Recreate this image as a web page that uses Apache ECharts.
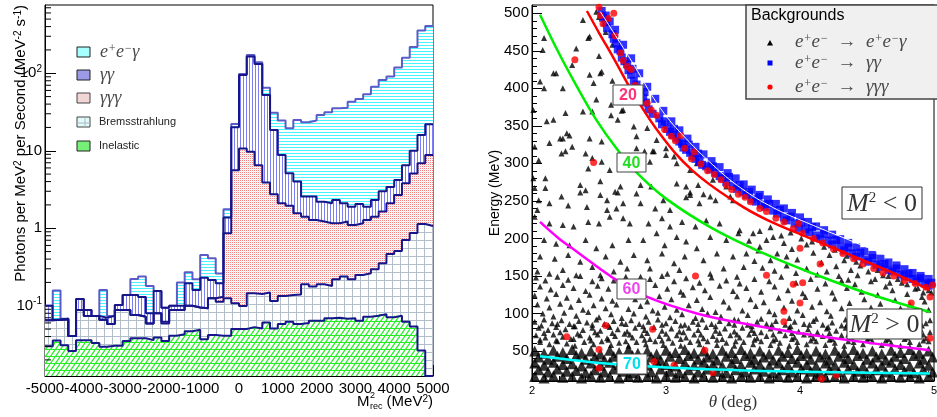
<!DOCTYPE html>
<html>
<head>
<meta charset="utf-8">
<script src="https://cdn.jsdelivr.net/npm/echarts@6.0.0/dist/echarts.min.js"></script>
<style>
html, body { margin: 0; padding: 0; background: #fff; }
#main { width: 937px; height: 417px; }
</style>
</head>
<body>
<div id="main"></div>
<script>
// ---------- left panel: M2_rec spectrum, 50 bins of 200 MeV^2, cumulative (stacked) tops ----------
const binEdges = [];
for (let i = 0; i <= 50; i++) binEdges.push(-5000 + 200 * i);

const inelasticTop = [0.030, 0.0355, 0.031, 0.026, 0.036, 0.036, 0.033, 0.0296, 0.0305, 0.0305,
  0.035, 0.038, 0.038, 0.036, 0.039, 0.035, 0.041, 0.043, 0.047, 0.049,
  0.037, 0.042, 0.041, 0.041, 0.050, 0.050, 0.053, 0.051, 0.061, 0.051,
  0.058, 0.062, 0.058, 0.060, 0.064, 0.064, 0.069, 0.070, 0.068, 0.069,
  0.064, 0.072, 0.0745, 0.078, 0.071, 0.0745, 0.062, 0.054, 0.0265, 0];
const bremsTop = [0.065, 0.066, 0.066, 0.0407, 0.088, 0.074, 0.074, 0.066, 0.058, 0.088,
  0.088, 0.076, 0.072, 0.059, 0.080, 0.059, 0.088, 0.088, 0.100, 0.095,
  0.093, 0.125, 0.113, 0.125, 0.108, 0.099, 0.145, 0.142, 0.148, 0.115,
  0.134, 0.138, 0.140, 0.189, 0.177, 0.189, 0.180, 0.220, 0.238, 0.220,
  0.249, 0.262, 0.296, 0.353, 0.466, 0.509, 0.706, 0.869, 1.135, 1.07];
const gggTop = [0.065, 0.066, 0.068, 0.0407, 0.088, 0.074, 0.074, 0.066, 0.058, 0.088,
  0.088, 0.076, 0.072, 0.059, 0.080, 0.062, 0.088, 0.088, 0.100, 0.095,
  0.093, 0.125, 0.131, 0.86, 5.6, 10.7, 9.7, 6.5, 3.9, 2.75,
  2.1, 1.95, 1.56, 1.41, 1.28, 1.22, 1.16, 1.16, 1.22, 1.10,
  1.16, 1.28, 1.41, 1.64, 2.1, 2.69, 3.81, 5.1, 6.9, 8.8];
const ggTop = [0.100, 0.066, 0.068, 0.0407, 0.122, 0.088, 0.074, 0.070, 0.074, 0.102,
  0.138, 0.138, 0.130, 0.080, 0.155, 0.094, 0.100, 0.100, 0.195, 0.160,
  0.230, 0.215, 0.195, 1.38, 20.1, 95, 164, 132, 52.5, 18.5,
  8.8, 5.13, 4.0, 2.56, 2.56, 2.2, 2.1, 2.32, 2.1, 1.9,
  2.06, 1.9, 2.32, 3.0, 3.4, 4.2, 6.5, 10, 16, 22];
const eegTop = [0.100, 0.157, 0.068, 0.0407, 0.122, 0.088, 0.074, 0.160, 0.074, 0.102,
  0.138, 0.222, 0.238, 0.180, 0.155, 0.094, 0.100, 0.200, 0.270, 0.220,
  0.450, 0.410, 0.260, 1.76, 22.1, 98, 172, 139, 65, 31,
  24.5, 19.5, 24.9, 23.3, 24.5, 29, 31.4, 35.3, 36, 43,
  46.6, 53.6, 67, 82, 90.6, 119, 159, 218, 355, 407];
const logMinorTicks = [0.02, 0.03, 0.04, 0.05, 0.06, 0.07, 0.08, 0.09,
  0.2, 0.3, 0.4, 0.5, 0.6, 0.7, 0.8, 0.9, 2, 3, 4, 5, 6, 7, 8, 9,
  20, 30, 40, 50, 60, 70, 80, 90, 200, 300, 400, 500, 600, 700];

// ---------- right panel: energy vs angle ----------
const energyTicks = [50, 100, 150, 200, 250, 300, 350, 400, 450, 500];
const energyMinorTicks = [20, 30, 40, 60, 70, 80, 90, 110, 120, 130, 140, 160, 170, 180, 190,
  210, 220, 230, 240, 260, 270, 280, 290, 310, 320, 330, 340, 360, 370, 380, 390,
  410, 420, 430, 440, 460, 470, 480, 490, 510];

const curve20 = [[2.41, 503], [2.5, 474], [2.61, 440], [2.76, 392], [2.96, 338], [3.2, 290], [3.53, 247], [3.75, 225], [4.05, 202], [4.4, 176], [4.72, 152], [4.97, 131]];
const curve40 = [[2.06, 498], [2.2, 447], [2.33, 404], [2.48, 358], [2.63, 320], [2.78, 288], [3.0, 253], [3.35, 213], [3.73, 180], [4.1, 153], [4.5, 127], [4.97, 102]];
const curve60 = [[2.06, 222], [2.2, 200], [2.33, 183], [2.6, 148], [2.86, 122], [3.23, 100], [3.6, 86], [4.1, 71], [4.6, 59], [4.97, 51]];
const curve70 = [[2.06, 43], [2.3, 38], [2.6, 32.5], [3.0, 28], [3.6, 24], [4.3, 21.5], [4.97, 20]];
const curveTwoPhoton = [[2.51, 502], [2.73, 440], [2.96, 373], [3.15, 333], [3.38, 293], [3.56, 267], [3.8, 241], [4.05, 221], [4.42, 194], [4.79, 167], [4.95, 156]];

const ggPoints = [[2.52,503],[2.53,494],[2.55,488],[2.56,480],[2.58,489],[2.6,472],[2.61,466],[2.63,460],[2.64,452],[2.66,450],[2.67,441],[2.69,436],[2.71,432],[2.72,424],[2.74,418],[2.75,426],[2.76,410],[2.78,405],[2.79,398],[2.81,392],[2.83,387],[2.84,395],[2.85,381],[2.87,372],[2.9,366],[2.95,360],[2.97,352],[2.99,356],[3.01,346],[3.03,342],[3.05,338],[3.06,346],[3.08,334],[3.1,329],[3.12,326],[3.13,321],[3.15,318],[3.17,325],[3.18,314],[3.2,310],[3.22,306],[3.24,313],[3.25,302],[3.27,298],[3.3,296],[3.33,292],[3.35,296],[3.37,287],[3.4,283],[3.42,280],[3.45,275],[3.47,282],[3.5,270],[3.53,266],[3.55,271],[3.57,262],[3.6,258],[3.62,262],[3.64,252],[3.67,249],[3.69,255],[3.71,245],[3.74,242],[3.77,246],[3.8,237],[3.83,233],[3.85,238],[3.88,228],[3.9,224],[3.93,229],[3.96,220],[3.99,214],[4.01,221],[4.04,212],[4.07,208],[4.09,215],[4.12,204],[4.15,200],[4.18,206],[4.21,197],[4.24,192],[4.27,198],[4.3,189],[4.33,184],[4.36,188],[4.39,180],[4.42,176],[4.45,181],[4.48,172],[4.51,169],[4.54,174],[4.57,165],[4.6,162],[4.63,166],[4.66,158],[4.69,156],[4.72,160],[4.75,152],[4.78,149],[4.81,153],[4.84,146],[4.87,143],[4.9,147],[4.93,140],[4.96,137],[4.98,141],
  [2.55,497],[2.62,478],[2.68,458],[2.74,440],[2.8,420],[2.86,402],[2.92,386],[2.98,370],[3.04,356],[3.1,344],[3.16,333],[3.22,322],[3.28,312],[3.34,303],[3.4,295],[3.46,287],[3.52,280],[3.58,272],[3.64,265],[3.7,258],[3.76,252],[3.82,246],[3.88,240],[3.94,234],[4.0,228],[4.06,222],[4.12,216],[4.18,211],[4.24,205],[4.3,199],[4.36,194],[4.42,188],[4.48,183],[4.54,178],[4.6,173],[4.66,168],[4.72,164],[4.78,159],[4.84,154],[4.9,150],[4.96,146]];

const gggPoints = [[2.5,508],[2.51,497],[2.53,486],[2.57,493],[2.61,500],[2.62,470],[2.66,447],[2.68,437],[2.71,429],[2.74,425],[2.77,404],[2.79,396],[2.81,389],[2.86,380],[2.89,371],[2.93,364],[2.99,345],[3.04,336],[3.07,330],[3.11,337],[3.14,320],[3.19,306],[3.21,315],[3.26,299],[3.31,290],[3.36,285],[3.41,278],[3.45,271],[3.49,265],[3.54,259],[3.59,255],[3.63,249],[3.7,240],[3.75,236],[3.82,227],[3.88,222],[3.95,213],[4.02,207],[4.1,200],[4.17,194],[4.25,186],[4.32,180],[4.4,173],[4.47,166],[4.55,160],[4.62,154],[4.7,150],[4.78,144],[4.86,140],[4.94,135],[4.99,138],
  [2.32,438],[2.46,301],[3.22,150],[2.55,84],[2.26,69],[2.9,79],[2.5,52],[3.29,51],[2.91,36],[2.5,27],[3.06,31],[3.35,21],[3.88,89],[3.88,103],[4.0,114],[3.95,139],[3.75,151],[4.15,166],[4.0,187],[3.99,220],[4.16,13],[4.27,18],[4.97,122],[4.83,114],[4.97,67],[4.02,141]];

// e+e- -> e+e-gamma : sparse upper part
const eegPointsUpper = [[2.38,491],[2.09,467],[2.42,467],[2.08,451],[2.33,453],[2.3,431],[2.16,420],[2.18,420],[2.43,418],[2.46,407],[2.51,420],[2.06,409],[2.09,400],[2.23,400],[2.48,385],[2.59,378],[2.01,371],[2.38,369],[2.45,369],[2.67,370],[2.25,367],[2.11,356],[2.16,358],[2.59,364],[2.64,358],[2.26,340],[2.28,337],[2.23,333],[2.21,333],[2.13,327],[2.43,333],[2.52,329],[2.78,336],[2.02,322],[2.3,322],[2.25,316],[2.22,313],[2.05,304],[2.45,307],[2.4,313],[2.42,293],[2.52,302],[2.58,291],[2.78,320],[2.91,316],[2.88,302],[3.0,320],[3.08,300],[2.1,280],[2.01,280],[2.51,276],[2.36,271],[2.66,269],[2.81,271],[2.89,269],[3.15,269],[3.24,271],[2.02,267],[2.1,267],[2.4,264],[2.62,262],
  [2.48,502],[2.5,495],[2.55,475],[2.6,458],[2.43,469],[2.5,443],[2.52,422],[2.6,410],[2.68,371],[2.76,349],[2.86,347],[2.93,331],[2.84,316],[2.9,316],[3.0,311],[3.06,309],[3.18,291],[3.23,300],[3.08,273],[3.35,278],[3.45,269],[3.18,258],[3.33,256],[3.5,251],[2.98,251],[2.68,247],[2.56,251],
  [2.22,256],[2.36,261],[2.51,258],[2.64,261],[2.78,260],[3.18,261],[3.28,259],[2.05,251],[2.13,247],[2.27,244],[2.41,242],[2.56,238],[2.63,240],[2.81,247],[2.92,240],[3.03,238],[3.15,255],[3.25,247],[3.37,251],[3.48,256],[2.13,220],[2.23,218],[2.31,216],[2.42,222],[2.5,220],[2.58,229],[2.68,227],[2.73,220],[2.87,220],[2.97,227],[3.03,216],[3.12,222],[3.22,216],[3.3,224],[3.4,220],[2.02,229],[2.04,238],
  [3.55,211],[3.65,207],[3.75,198],[3.8,202],[3.7,189],[3.6,180],[3.9,176],[3.78,171],
  [2.09,198],[2.18,193],[2.28,191],[2.4,198],[2.48,187],[2.6,191],[2.72,198],[2.83,198],[2.93,207],[2.99,191],[3.08,202],[3.15,196],[3.23,187],[3.33,202],[3.45,198],[3.54,207],[2.06,176],[2.17,173],[2.27,178],[2.36,169],[2.45,162],[2.55,176],[2.66,169],[2.76,178],[2.86,171],[2.97,180],[3.06,167],[3.14,176],[3.28,171],[3.38,180],[3.5,176],[3.58,162],[2.04,156],[2.13,153],[2.23,158],[2.33,151],[2.51,151],[2.61,156],[2.71,160],[2.81,149],[2.88,160],[3.01,153],[3.1,158],[3.33,153],[3.43,160],[3.53,149],
  [3.62,197],[3.69,184],[3.83,180],[3.88,194],[3.94,186],[3.98,172],[4.05,192],[4.1,181],[4.16,168],[4.22,178],[4.27,163],[4.33,171],[4.38,158],[4.45,164],[3.66,170],[3.72,161],[3.81,157],[3.9,164],[3.97,154],[4.05,160],[4.13,152],[4.2,156],[4.29,150],[4.36,145],[4.43,151],[4.51,156],[4.56,146],[4.62,151],[4.67,141],[4.73,146],[4.8,139],[4.86,133],[4.92,128],[3.7,210],[3.78,215],[3.86,204],[3.93,208],[4.01,200],[4.09,196],[4.18,189],[4.26,185],[4.35,177],[4.42,169],[4.58,158],[4.66,150]];

// e+e- -> e+e-gamma : denser middle band (roughly 55-150 MeV)
const eegPointsMiddle = [
  [2.03,148],[2.1,144],[2.19,149],[2.27,145],[2.36,150],[2.45,143],[2.52,147],[2.61,144],[2.7,149],[2.78,142],[2.88,146],[2.97,150],[3.06,143],[3.15,147],[3.25,141],[3.34,148],[3.45,144],[3.55,140],[3.66,146],[3.77,143],[3.86,149],[3.97,141],[4.08,146],[4.19,140],[4.31,144],[4.41,139],[4.53,143],[4.64,136],[4.76,141],[4.88,134],[4.96,131],
  [2.06,136],[2.14,132],[2.23,138],[2.31,134],[2.4,130],[2.49,137],[2.57,133],[2.66,129],[2.74,136],[2.83,131],[2.92,138],[3.01,133],[3.11,129],[3.2,135],[3.29,131],[3.4,137],[3.5,130],[3.6,134],[3.71,129],[3.81,136],[3.91,131],[4.02,127],[4.13,133],[4.24,128],[4.35,134],[4.46,129],[4.58,125],[4.69,131],[4.8,126],[4.91,122],[4.98,128],
  [2.02,124],[2.11,120],[2.18,126],[2.26,121],[2.35,118],[2.43,125],[2.52,120],[2.6,117],[2.69,124],[2.77,119],[2.86,116],[2.95,123],[3.04,119],[3.13,125],[3.23,118],[3.33,122],[3.43,116],[3.53,123],[3.63,119],[3.73,115],[3.84,121],[3.94,117],[4.04,122],[4.15,115],[4.26,120],[4.37,114],[4.48,119],[4.6,113],[4.71,118],[4.82,112],[4.93,116],
  [2.04,112],[2.13,108],[2.21,113],[2.29,109],[2.38,105],[2.46,111],[2.55,107],[2.63,112],[2.72,106],[2.81,110],[2.9,104],[2.99,109],[3.08,105],[3.17,111],[3.27,106],[3.37,102],[3.47,108],[3.57,104],[3.67,110],[3.77,103],[3.88,108],[3.98,104],[4.09,109],[4.2,103],[4.31,107],[4.42,102],[4.53,108],[4.64,103],[4.75,107],[4.86,101],[4.96,105],
  [2.08,100],[2.16,96],[2.24,101],[2.33,97],[2.42,102],[2.5,95],[2.59,99],[2.67,94],[2.76,100],[2.85,96],[2.94,101],[3.03,95],[3.12,99],[3.22,94],[3.31,100],[3.41,96],[3.51,92],[3.61,98],[3.71,93],[3.81,99],[3.92,94],[4.02,98],[4.12,93],[4.23,97],[4.34,92],[4.45,98],[4.56,93],[4.67,97],[4.78,92],[4.88,96],[4.97,91],
  [2.02,89],[2.09,92],[2.15,87],[2.22,91],[2.28,86],[2.35,90],[2.41,88],[2.48,92],[2.54,86],[2.61,90],[2.67,87],[2.74,91],[2.8,86],[2.87,89],[2.94,92],[3.0,87],[3.07,90],[3.14,85],[3.2,89],[3.27,92],[3.34,86],[3.4,90],[3.47,87],[3.54,91],[3.61,85],[3.68,89],[3.75,86],[3.82,90],[3.89,85],[3.96,89],[4.03,86],[4.1,90],[4.17,85],[4.24,88],[4.31,84],[4.38,89],[4.45,85],[4.52,88],[4.59,84],[4.66,87],[4.73,83],[4.8,88],[4.87,84],[4.94,87],
  [2.07,84],[2.19,86],[2.32,83],[2.45,85],[2.57,84],[2.7,86],[2.83,83],[2.97,85],[3.11,84],[3.24,86],[3.37,83],[3.51,85],[3.64,83],[3.79,85],[3.93,83],[4.07,85],[4.21,82],[4.35,85],[4.49,82],[4.63,84],[4.77,82],[4.91,84],
  [2.05,81],[2.12,78],[2.18,82],[2.25,79],[2.31,83],[2.38,78],[2.45,81],[2.51,77],[2.58,82],[2.64,79],[2.71,76],[2.77,81],[2.84,78],[2.91,82],[2.97,77],[3.04,80],[3.1,76],[3.17,81],[3.24,78],[3.3,82],[3.37,77],[3.44,80],[3.51,76],[3.57,81],[3.64,78],[3.71,75],[3.78,80],[3.85,77],[3.92,81],[3.99,76],[4.06,79],[4.13,75],[4.2,80],[4.27,77],[4.34,81],[4.41,76],[4.48,79],[4.55,75],[4.62,80],[4.69,77],[4.76,81],[4.83,76],[4.9,79],[4.97,75],
  [2.09,74],[2.21,75],[2.34,73],[2.47,75],[2.6,74],[2.73,72],[2.86,74],[3.0,73],[3.13,75],[3.26,72],[3.4,74],[3.53,72],[3.66,74],[3.8,72],[3.94,74],[4.08,72],[4.22,74],[4.36,72],[4.5,74],[4.64,72],[4.78,74],[4.92,72],
  [2.03,71],[2.1,68],[2.16,72],[2.23,69],[2.29,66],[2.36,71],[2.43,68],[2.49,72],[2.56,67],[2.62,70],[2.69,73],[2.75,68],[2.82,71],[2.88,66],[2.95,70],[3.02,67],[3.08,71],[3.15,68],[3.21,72],[3.28,67],[3.35,70],[3.42,66],[3.48,71],[3.55,68],[3.62,72],[3.68,67],[3.75,70],[3.82,66],[3.89,71],[3.96,68],[4.03,72],[4.1,67],[4.17,70],[4.24,66],[4.31,71],[4.38,68],[4.45,72],[4.52,67],[4.59,70],[4.66,66],[4.73,71],[4.8,68],[4.87,72],[4.94,67],
  [2.06,65],[2.18,64],[2.31,66],[2.44,64],[2.57,65],[2.7,63],[2.84,65],[2.97,64],[3.11,66],[3.24,64],[3.38,65],[3.52,63],[3.66,65],[3.8,64],[3.94,66],[4.08,64],[4.22,65],[4.36,63],[4.5,65],[4.64,64],[4.78,66],[4.92,64],
  [2.06,62],[2.13,59],[2.19,63],[2.26,60],[2.32,57],[2.39,62],[2.46,59],[2.52,63],[2.59,58],[2.65,61],[2.72,57],[2.78,62],[2.85,59],[2.92,63],[2.98,58],[3.05,61],[3.11,57],[3.18,62],[3.25,59],[3.31,63],[3.38,58],[3.45,61],[3.51,57],[3.58,62],[3.65,59],[3.71,63],[3.78,58],[3.85,61],[3.92,57],[3.98,62],[4.05,59],[4.12,63],[4.19,58],[4.26,61],[4.33,57],[4.4,62],[4.47,59],[4.54,63],[4.61,58],[4.68,61],[4.75,57],[4.82,62],[4.89,59],[4.96,63]];

// e+e- -> e+e-gamma : saturated bottom band (below ~55 MeV)
const eegPointsCore = [
  [2.02,50],[2.09,47],[2.16,51],[2.23,48],[2.3,52],[2.37,47],[2.44,50],[2.51,46],[2.58,51],[2.65,48],[2.72,52],[2.79,47],[2.86,50],[2.93,46],[3.0,51],[3.07,48],[3.14,52],[3.21,47],[3.28,50],[3.35,46],[3.42,51],[3.49,48],[3.56,52],[3.63,47],[3.7,50],[3.77,46],[3.84,51],[3.91,48],[3.98,52],[4.05,47],[4.12,50],[4.19,46],[4.26,51],[4.33,48],[4.4,52],[4.47,47],[4.54,50],[4.61,46],[4.68,51],[4.75,48],[4.82,52],[4.89,47],[4.96,50],
  [2.05,42],[2.12,39],[2.19,43],[2.26,40],[2.33,44],[2.4,39],[2.47,42],[2.54,38],[2.61,43],[2.68,40],[2.75,44],[2.82,39],[2.89,42],[2.96,38],[3.03,43],[3.1,40],[3.17,44],[3.24,39],[3.31,42],[3.38,38],[3.45,43],[3.52,40],[3.59,44],[3.66,39],[3.73,42],[3.8,38],[3.87,43],[3.94,40],[4.01,44],[4.08,39],[4.15,42],[4.22,38],[4.29,43],[4.36,40],[4.43,44],[4.5,39],[4.57,42],[4.64,38],[4.71,43],[4.78,40],[4.85,44],[4.92,39],[4.99,42],
  [2.02,34],[2.09,31],[2.16,35],[2.23,32],[2.3,33],[2.37,30],[2.44,34],[2.51,31],[2.58,35],[2.65,32],[2.72,30],[2.79,34],[2.86,31],[2.93,35],[3.0,32],[3.07,30],[3.14,34],[3.21,31],[3.28,35],[3.35,32],[3.42,30],[3.49,34],[3.56,31],[3.63,35],[3.7,32],[3.77,30],[3.84,34],[3.91,31],[3.98,35],[4.05,32],[4.12,30],[4.19,34],[4.26,31],[4.33,35],[4.4,32],[4.47,30],[4.54,34],[4.61,31],[4.68,35],[4.75,32],[4.82,30],[4.89,34],[4.96,31],
  [2.05,25],[2.12,22],[2.19,26],[2.26,23],[2.33,24],[2.4,21],[2.47,25],[2.54,22],[2.61,26],[2.68,23],[2.75,21],[2.82,25],[2.89,22],[2.96,26],[3.03,23],[3.1,21],[3.17,25],[3.24,22],[3.31,26],[3.38,23],[3.45,21],[3.52,25],[3.59,22],[3.66,26],[3.73,23],[3.8,21],[3.87,25],[3.94,22],[4.01,26],[4.08,23],[4.15,21],[4.22,25],[4.29,22],[4.36,26],[4.43,23],[4.5,21],[4.57,25],[4.64,22],[4.71,26],[4.78,23],[4.85,21],[4.92,25],[4.99,22],
  [2.02,16],[2.09,14],[2.16,17],[2.23,15],[2.3,16],[2.37,14],[2.44,17],[2.51,15],[2.58,16],[2.65,14],[2.72,17],[2.79,15],[2.86,16],[2.93,14],[3.0,17],[3.07,15],[3.14,16],[3.21,14],[3.28,17],[3.35,15],[3.42,16],[3.49,14],[3.56,17],[3.63,15],[3.7,16],[3.77,14],[3.84,17],[3.91,15],[3.98,16],[4.05,14],[4.12,17],[4.19,15],[4.26,16],[4.33,14],[4.4,17],[4.47,15],[4.54,16],[4.61,14],[4.68,17],[4.75,15],[4.82,16],[4.89,14],[4.96,17]];

// ---------- styles ----------
const Y_MIN = 0.0124, Y_MAX = 760;
const NAVY = '#16168a';
const SANS = 'Liberation Sans';
const SERIF = 'Liberation Serif';

function makePattern(w, h, draw) {
  const c = document.createElement('canvas');
  c.width = w; c.height = h;
  const ctx = c.getContext('2d');
  ctx.fillStyle = '#ffffff';
  ctx.fillRect(0, 0, w, h);
  draw(ctx);
  return { image: c, repeat: 'repeat' };
}
const fillEeg = makePattern(4, 3, ctx => { ctx.fillStyle = '#48f4ff'; ctx.fillRect(0, 0, 4, 1); });
const fillGg = makePattern(3, 4, ctx => { ctx.fillStyle = '#7e7ef4'; ctx.fillRect(0, 0, 1, 4); });
const fillGgg = makePattern(2, 2, ctx => {
  ctx.fillStyle = '#f08484'; ctx.fillRect(0, 0, 1, 1);
  ctx.fillStyle = '#fde6e6'; ctx.fillRect(1, 1, 1, 1);
});
const fillBrems = makePattern(8, 8, ctx => { ctx.fillStyle = '#b2bec9'; ctx.fillRect(0, 0, 8, 1); ctx.fillRect(0, 0, 1, 8); });
const fillInel = makePattern(5, 7, ctx => {
  ctx.strokeStyle = '#22ee22'; ctx.lineWidth = 1.3;
  ctx.beginPath(); ctx.moveTo(-1, 8.4); ctx.lineTo(6, -1.4); ctx.stroke();
  ctx.fillStyle = '#22ee22'; ctx.fillRect(0, 6, 5, 1);
});

function histData(vals) {
  return vals.map((v, i) => [binEdges[i], binEdges[i + 1], v]).filter(d => d[2] > 0);
}
function histRender(fill) {
  return function (params, api) {
    const v = api.value(2);
    if (!(v > Y_MIN)) return;
    const top = api.coord([api.value(0), v]);
    const bot = api.coord([api.value(1), Y_MIN]);
    return {
      type: 'rect',
      shape: { x: top[0], y: top[1], width: bot[0] - top[0] + 0.6, height: bot[1] - top[1] },
      style: { fill: fill }
    };
  };
}
function stepData(vals) {
  const pts = vals.map((v, i) => [binEdges[i], v > Y_MIN ? v : Y_MIN]);
  pts.push([binEdges[50], pts[pts.length - 1][1]]);
  return pts;
}
function histSeries(name, vals, fill) {
  return {
    name: name, type: 'custom', xAxisIndex: 0, yAxisIndex: 0, clip: true, z: 2,
    encode: { x: [0, 1], y: 2 }, data: histData(vals), renderItem: histRender(fill)
  };
}
function outline(vals, color) {
  return {
    type: 'line', xAxisIndex: 0, yAxisIndex: 0, step: 'end', symbol: 'none', z: 3,
    data: stepData(vals), lineStyle: { color: color, width: 2 }, silent: true
  };
}
function curve(data, color, width) {
  return {
    type: 'line', xAxisIndex: 1, yAxisIndex: 1, data: data, smooth: 0.4, symbol: 'none', z: 6,
    lineStyle: { color: color, width: width }, silent: true
  };
}

const supRich = { s: { fontSize: 10, verticalAlign: 'top', lineHeight: 10 } };

function legendText(x, y, text, opts) {
  return { type: 'text', x: x, y: y, z: 101,
    style: Object.assign({ text: text, verticalAlign: 'middle', fill: '#444' }, opts) };
}
function boxLabel(x, y, w, h, text, color) {
  return [
    { type: 'rect', z: 100, shape: { x: x, y: y, width: w, height: h }, style: { fill: '#fff', stroke: '#444', lineWidth: 1 } },
    { type: 'text', z: 101, x: x + w / 2, y: y + h / 2 + 1, style: { text: text, fill: color, fontSize: 16, fontWeight: 'bold', fontFamily: SANS, align: 'center', verticalAlign: 'middle' } }
  ];
}
function mathRich(size, supSize) {
  return {
    i: { fontStyle: 'italic', fontFamily: SERIF, fontSize: size, fill: '#4a4a4a' },
    s: { fontStyle: 'italic', fontFamily: SERIF, fontSize: supSize, verticalAlign: 'top', lineHeight: supSize, fill: '#4a4a4a' },
    n: { fontFamily: SERIF, fontSize: size, fill: '#4a4a4a' }
  };
}
const legendRichLeft = mathRich(18, 12);
const legendRichRight = mathRich(19, 12);

const option = {
  animation: false,
  backgroundColor: '#fff',
  grid: [
    { left: 45, top: 5, width: 388, height: 371, show: true, borderColor: '#000', borderWidth: 1, outerBoundsMode: 'none' },
    { left: 532, top: 5, width: 402, height: 376, show: true, borderColor: '#000', borderWidth: 1, outerBoundsMode: 'none' }
  ],
  xAxis: [
    {
      type: 'value', gridIndex: 0, min: -5000, max: 5000, interval: 1000,
      axisLine: { lineStyle: { color: '#000' } },
      axisTick: { inside: true, length: 11, lineStyle: { color: '#000' } },
      minorTick: { show: true, splitNumber: 5, length: 5, lineStyle: { color: '#000' } },
      splitLine: { show: false }, minorSplitLine: { show: false },
      axisLabel: { color: '#000', fontSize: 15, fontFamily: SANS, margin: 5, showMinLabel: true, showMaxLabel: true,
        formatter: v => String(v) }
    },
    {
      type: 'value', gridIndex: 1, min: 2, max: 5, interval: 1,
      axisLine: { lineStyle: { color: '#000' } },
      axisTick: { inside: true, length: 10, lineStyle: { color: '#000' } },
      minorTick: { show: true, splitNumber: 10, length: 5, lineStyle: { color: '#000' } },
      splitLine: { show: false },
      axisLabel: { color: '#000', fontSize: 11, fontFamily: SANS, margin: 4 },
      name: '{i|θ} (deg)', nameLocation: 'middle', nameGap: 13, nameMoveOverlap: false,
      nameTextStyle: { color: '#333', fontFamily: SERIF, fontSize: 17,
        rich: { i: { fontStyle: 'italic', fontFamily: SERIF, fontSize: 17, color: '#333' } } }
    }
  ],
  yAxis: [
    {
      type: 'log', logBase: 10, gridIndex: 0, min: Y_MIN, max: Y_MAX,
      axisLine: { show: true, onZero: false, lineStyle: { color: '#000' } },
      axisTick: { inside: true, length: 11, lineStyle: { color: '#000' } },
      splitLine: { show: false },
      axisLabel: {
        color: '#000', fontSize: 15, fontFamily: SANS, margin: 3, lineHeight: 18,
        showMinLabel: false, showMaxLabel: false,
        formatter: function (v) {
          const e = Math.round(Math.log10(v));
          if (e === 0) return '1';
          if (e === 1) return '10';
          return '10{s|' + e + '}';
        },
        rich: { s: { fontSize: 10, verticalAlign: 'top', lineHeight: 10, fontFamily: SANS, color: '#000' } }
      }
    },
    {
      type: 'value', gridIndex: 1, min: 10, max: 511,
      axisLine: { show: true, onZero: false, lineStyle: { color: '#000' } },
      axisTick: { inside: true, length: 10, customValues: energyTicks, lineStyle: { color: '#000' } },
      splitLine: { show: false },
      axisLabel: { color: '#000', fontSize: 15, fontFamily: SANS, margin: 3, customValues: energyTicks },
      name: 'Energy (MeV)', nameLocation: 'middle', nameGap: 30, nameMoveOverlap: false,
      nameTextStyle: { color: '#000', fontSize: 14, fontFamily: SANS }
    },
    {
      type: 'value', gridIndex: 1, min: 10, max: 511, position: 'left',
      axisLine: { show: false, onZero: false },
      axisTick: { inside: true, length: 5, customValues: energyMinorTicks, lineStyle: { color: '#000' } },
      axisLabel: { show: false }, splitLine: { show: false }
    }
  ],
  series: [
    histSeries('e+e-γ', eegTop, fillEeg),
    histSeries('γγ', ggTop, fillGg),
    histSeries('γγγ', gggTop, fillGgg),
    histSeries('Bremsstrahlung', bremsTop, fillBrems),
    histSeries('Inelastic', inelasticTop, fillInel),
    outline(eegTop, '#5c5cc8'),
    outline(ggTop, NAVY),
    outline(gggTop, NAVY),
    outline(bremsTop, NAVY),
    outline(inelasticTop, NAVY),
    {
      type: 'custom', xAxisIndex: 0, yAxisIndex: 0, z: 4, silent: true,
      data: logMinorTicks.map(v => [-5000, v]),
      renderItem: function (params, api) {
        const c = api.coord([api.value(0), api.value(1)]);
        return { type: 'line', shape: { x1: c[0], y1: c[1], x2: c[0] + 6, y2: c[1] }, style: { stroke: '#000', lineWidth: 1 } };
      }
    },
    {
      name: 'e+e- → e+e-γ', type: 'scatter', xAxisIndex: 1, yAxisIndex: 1, symbol: 'triangle', symbolSize: 6,
      data: eegPointsUpper.concat(eegPointsMiddle), itemStyle: { color: '#000' }, z: 2, silent: true
    },
    {
      name: 'e+e- → e+e-γ', type: 'scatter', xAxisIndex: 1, yAxisIndex: 1, symbol: 'triangle', symbolSize: 11,
      data: eegPointsCore, itemStyle: { color: '#000' }, z: 2, silent: true
    },
    {
      name: 'e+e- → γγ', type: 'scatter', xAxisIndex: 1, yAxisIndex: 1, symbol: 'rect', symbolSize: 8,
      data: ggPoints, itemStyle: { color: '#0000ff' }, z: 3, silent: true
    },
    {
      name: 'e+e- → γγγ', type: 'scatter', xAxisIndex: 1, yAxisIndex: 1, symbol: 'circle', symbolSize: 7,
      data: gggPoints, itemStyle: { color: '#ff0000' }, z: 4, silent: true
    },
    curve(curve20, '#ff0000', 2.5),
    curve(curve40, '#00ee00', 2.5),
    curve(curve60, '#ff00ff', 2.5),
    curve(curve70, '#00ffff', 2.5),
    curve(curveTwoPhoton, '#ffffff', 1)
  ],
  graphic: [
    // left legend
    { type: 'rect', z: 100, shape: { x: 77, y: 47, width: 13, height: 10 }, style: { fill: '#a8ffff', stroke: '#222', lineWidth: 1 } },
    { type: 'rect', z: 100, shape: { x: 77, y: 70, width: 13, height: 10 }, style: { fill: '#9a9ae6', stroke: '#222', lineWidth: 1 } },
    { type: 'rect', z: 100, shape: { x: 77, y: 93, width: 13, height: 10 }, style: { fill: '#f2d6d6', stroke: '#444', lineWidth: 1 } },
    { type: 'rect', z: 100, shape: { x: 77, y: 117, width: 13, height: 10 }, style: { fill: '#e2fafa', stroke: '#444', lineWidth: 1 } },
    { type: 'line', z: 101, shape: { x1: 85, y1: 117, x2: 85, y2: 127 }, style: { stroke: '#a8b8c4', lineWidth: 1 } },
    { type: 'line', z: 101, shape: { x1: 77, y1: 123, x2: 90, y2: 123 }, style: { stroke: '#a8b8c4', lineWidth: 1 } },
    { type: 'rect', z: 100, shape: { x: 77, y: 141, width: 13, height: 10 }, style: { fill: '#77f077', stroke: '#222', lineWidth: 1 } },
    legendText(100, 52, '{i|e}{s|+}{i|e}{s|−}{i|γ}', { rich: legendRichLeft }),
    legendText(100, 75, '{i|γγ}', { rich: legendRichLeft }),
    legendText(100, 98, '{i|γγγ}', { rich: legendRichLeft }),
    legendText(99, 122, 'Bremsstrahlung', { fontSize: 11, fontFamily: SANS, fill: '#222' }),
    legendText(99, 146, 'Inelastic', { fontSize: 11, fontFamily: SANS, fill: '#222' }),
    // left axis titles
    { type: 'text', z: 100, x: 21, y: 5, rotation: Math.PI / 2,
      style: { text: 'Photons per MeV{s|2} per Second (MeV{s|-2} s{s|-1})', fontSize: 15, fontFamily: SANS, fill: '#000',
        align: 'right', verticalAlign: 'middle', rich: supRich } },
    { type: 'text', z: 100, x: 357, y: 402, style: { text: 'M', fontSize: 15, fontFamily: SANS, fill: '#000', verticalAlign: 'middle' } },
    { type: 'text', z: 100, x: 370, y: 396, style: { text: '2', fontSize: 9, fontFamily: SANS, fill: '#000', verticalAlign: 'middle' } },
    { type: 'text', z: 100, x: 370, y: 407, style: { text: 'rec', fontSize: 9, fontFamily: SANS, fill: '#000', verticalAlign: 'middle' } },
    { type: 'text', z: 100, x: 433, y: 402, style: { text: '(MeV{s|2})', fontSize: 15, fontFamily: SANS, fill: '#000', align: 'right', verticalAlign: 'middle', rich: supRich } },
    // right legend
    { type: 'rect', z: 100, shape: { x: 746, y: 5, width: 192, height: 94 }, style: { fill: '#f0f0f0', stroke: '#444', lineWidth: 1.5 } },
    { type: 'text', z: 101, x: 751, y: 16, style: { text: 'Backgrounds', fontSize: 16, fontFamily: SANS, fill: '#000', verticalAlign: 'middle' } },
    { type: 'polygon', z: 101, shape: { points: [[770, 40], [767, 45.5], [773, 45.5]] }, style: { fill: '#000' } },
    { type: 'rect', z: 101, shape: { x: 767.5, y: 60.5, width: 5, height: 5 }, style: { fill: '#0000ff' } },
    { type: 'circle', z: 101, shape: { cx: 770, cy: 87, r: 2.6 }, style: { fill: '#ff0000' } },
    legendText(795, 42, '{i|e}{s|+}{i|e}{s|−}{n|  →  }{i|e}{s|+}{i|e}{s|−}{i|γ}', { rich: legendRichRight }),
    legendText(795, 63, '{i|e}{s|+}{i|e}{s|−}{n|  →  }{i|γγ}', { rich: legendRichRight }),
    legendText(795, 87, '{i|e}{s|+}{i|e}{s|−}{n|  →  }{i|γγγ}', { rich: legendRichRight }),
    // region annotations
    { type: 'rect', z: 100, shape: { x: 842, y: 187, width: 80, height: 32 }, style: { fill: '#fff', stroke: '#333', lineWidth: 1 } },
    { type: 'text', z: 101, x: 882, y: 204, style: { text: '{m|M}{t|2}{r| < 0}', align: 'center', verticalAlign: 'middle',
      rich: { m: { fontStyle: 'italic', fontFamily: SERIF, fontSize: 26, fill: '#333' }, t: { fontFamily: SERIF, fontSize: 15, verticalAlign: 'top', lineHeight: 15, fill: '#333' }, r: { fontFamily: SERIF, fontSize: 26, fill: '#333' } } } },
    { type: 'rect', z: 100, shape: { x: 847, y: 309, width: 75, height: 30 }, style: { fill: '#fff', stroke: '#333', lineWidth: 1 } },
    { type: 'text', z: 101, x: 884.5, y: 325, style: { text: '{m|M}{t|2}{r| > 0}', align: 'center', verticalAlign: 'middle',
      rich: { m: { fontStyle: 'italic', fontFamily: SERIF, fontSize: 26, fill: '#333' }, t: { fontFamily: SERIF, fontSize: 15, verticalAlign: 'top', lineHeight: 15, fill: '#333' }, r: { fontFamily: SERIF, fontSize: 26, fill: '#333' } } } }
  ].concat(
    boxLabel(613, 85, 30, 20, '20', '#ff3377'),
    boxLabel(617, 153, 29, 19, '40', '#22dd22'),
    boxLabel(617, 279, 29, 20, '60', '#ee44ee'),
    boxLabel(617, 354, 30, 20, '70', '#00e0f0')
  )
};

const myChart = echarts.init(document.getElementById('main'));
myChart.setOption(option);
</script>
</body>
</html>
